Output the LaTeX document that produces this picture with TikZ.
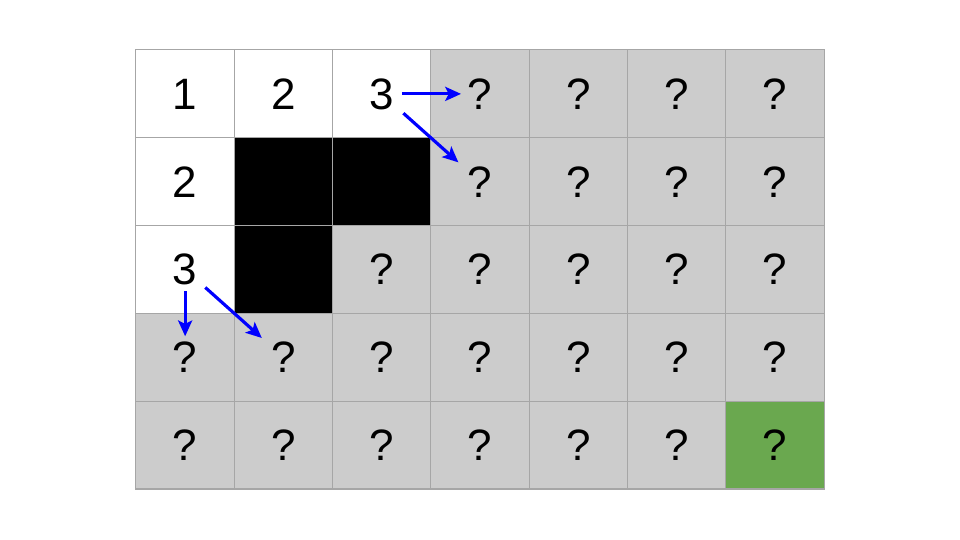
\documentclass[tikz,border=0pt]{standalone}
\usepackage{fontspec}
\setmainfont{Liberation Sans}
\usetikzlibrary{arrows.meta}
\definecolor{unknown}{HTML}{CCCCCC}
\definecolor{goal}{HTML}{6AA84F}
\definecolor{gridline}{HTML}{A6A6A6}

\begin{document}
\begin{tikzpicture}
  [x=0.01cm,y=-0.01cm,
   cell/.style={draw=gridline,line width=0.3pt,minimum width=0.983cm,minimum height=0.878cm,
     inner sep=0pt,font=\fontsize{12.5}{14}\selectfont},
   open/.style={cell,fill=white},
   wall/.style={cell,fill=black},
   hidden/.style={cell,fill=unknown},
   target/.style={cell,fill=goal},
   flow/.style={-{Stealth[length=4.5pt,width=4pt,inset=1pt]},blue,line width=0.9pt}]
  \useasboundingbox (0,0) rectangle (960,540);

  % unexplored cells
  \foreach \r/\first/\last in {0/3/6, 1/3/6, 2/2/6, 3/0/6, 4/0/5}
    \foreach \c in {\first,...,\last}
      \node[hidden] (c\r\c) at ({136+98.3*(\c+0.5)},{50+87.8*(\r+0.5)}) {?};

  \node[open] (c00) at ({136+98.3*0.5},{50+87.8*0.5}) {1};
  \node[open] (c01) at ({136+98.3*1.5},{50+87.8*0.5}) {2};
  \node[open] (c02) at ({136+98.3*2.5},{50+87.8*0.5}) {3};
  \node[open] (c10) at ({136+98.3*0.5},{50+87.8*1.5}) {2};
  \node[open] (c20) at ({136+98.3*0.5},{50+87.8*2.5}) {3};
  \node[wall] (c11) at ({136+98.3*1.5},{50+87.8*1.5}) {};
  \node[wall] (c12) at ({136+98.3*2.5},{50+87.8*1.5}) {};
  \node[wall] (c21) at ({136+98.3*1.5},{50+87.8*2.5}) {};
  \node[target] (c46) at ({136+98.3*6.5},{50+87.8*4.5}) {?};

  \foreach \from/\to/\sa/\sb in {c02/c03/20/19, c02/c13/29/29, c20/c30/22/21, c20/c31/27/29}
    \draw[flow,shorten <=\sa*0.01cm,shorten >=\sb*0.01cm] (\from.center) -- (\to.center);

\end{tikzpicture}
\end{document}
